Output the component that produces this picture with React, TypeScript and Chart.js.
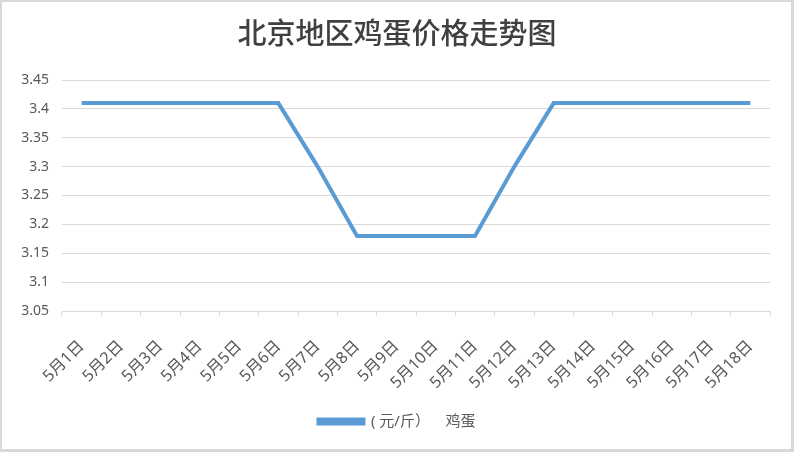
import React, { useEffect, useRef } from "react";
import { Chart, registerables } from "chart.js";

Chart.register(...registerables);

const TITLE = "北京地区鸡蛋价格走势图";
const SERIES_NAME = "( 元/斤）    鸡蛋";
const categories = [
  "5月1日", "5月2日", "5月3日", "5月4日", "5月5日", "5月6日",
  "5月7日", "5月8日", "5月9日", "5月10日", "5月11日", "5月12日",
  "5月13日", "5月14日", "5月15日", "5月16日", "5月17日", "5月18日",
];
const eggPrices = [
  3.41, 3.41, 3.41, 3.41, 3.41, 3.41,
  3.3, 3.18, 3.18, 3.18, 3.18, 3.3,
  3.41, 3.41, 3.41, 3.41, 3.41, 3.41,
];
const yMin = 3.05;
const yMax = 3.45;
const yStep = 0.05;

const FONT = "'Noto Sans', 'Noto Sans CJK SC', sans-serif";

export default function App() {
  const ref = useRef<HTMLCanvasElement | null>(null);
  useEffect(() => {
    document.body.style.margin = "0";
    const ctx = ref.current!.getContext("2d")!;
    const chart = new Chart(ctx, {
      type: "line",
      data: {
        labels: categories,
        datasets: [
          {
            label: SERIES_NAME,
            data: eggPrices,
            borderColor: "#5B9BD5",
            backgroundColor: "#5B9BD5",
            borderWidth: 4,
            pointRadius: 0,
            tension: 0,
            fill: false,
            yAxisID: "y",
          },
        ],
      },
      options: {
        responsive: false,
        animation: false,
        layout: { padding: { left: 10, right: 10, top: 0, bottom: 13 } },
        plugins: {
          title: {
            display: true,
            text: TITLE,
            color: "#404040",
            font: { family: "'Noto Sans CJK SC', sans-serif", size: 29, weight: "500" },
            padding: { top: 15.6, bottom: 29.6 },
          },
          legend: {
            position: "bottom",
            labels: {
              boxWidth: 45,
              boxHeight: 4,
              padding: 10,
              color: "#595959",
              font: { family: FONT, size: 15 },
            },
          },
          tooltip: { enabled: false },
        },
        scales: {
          x: {
            offset: true,
            grid: {
              offset: true,
              drawOnChartArea: false,
              drawTicks: true,
              tickLength: 5,
              color: "#d9d9d9",
            },
            border: { color: "#d9d9d9", width: 1 },
            ticks: {
              autoSkip: false,
              maxRotation: 45,
              minRotation: 45,
              padding: 21,
              color: "#595959",
              font: { family: FONT, size: 16 },
            },
            afterFit: (s: any) => {
              s.height = 93;
            },
          },
          y: {
            min: yMin,
            max: yMax,
            grid: { color: "#d9d9d9", drawTicks: false },
            border: { display: false },
            ticks: {
              stepSize: yStep,
              padding: 13,
              color: "#595959",
              font: { family: FONT, size: 14 },
              callback: (v: any) => String(Number(Number(v).toFixed(2))),
            },
            afterFit: (s: any) => {
              s.width = 52;
            },
          },
          spacer: {
            type: "linear",
            position: "right",
            display: true,
            grid: { display: false, drawTicks: false },
            border: { display: false },
            ticks: { display: false },
            afterFit: (s: any) => {
              s.width = 14;
            },
          },
        },
      },
    });
    return () => chart.destroy();
  }, []);
  return (
    <div style={{ position: "absolute", left: 0, top: 0, width: 794, height: 452, background: "#fff" }}>
      <canvas ref={ref} width={794} height={452} style={{ display: "block" }} />
      <div
        style={{
          position: "absolute",
          left: 0,
          top: 0,
          width: 794,
          height: 452,
          boxSizing: "border-box",
          borderTop: "2px solid #d9d9d9",
          borderLeft: "2px solid #d9d9d9",
          borderRight: "3px solid #d9d9d9",
          borderBottom: "3px solid #d9d9d9",
          pointerEvents: "none",
        }}
      />
    </div>
  );
}
